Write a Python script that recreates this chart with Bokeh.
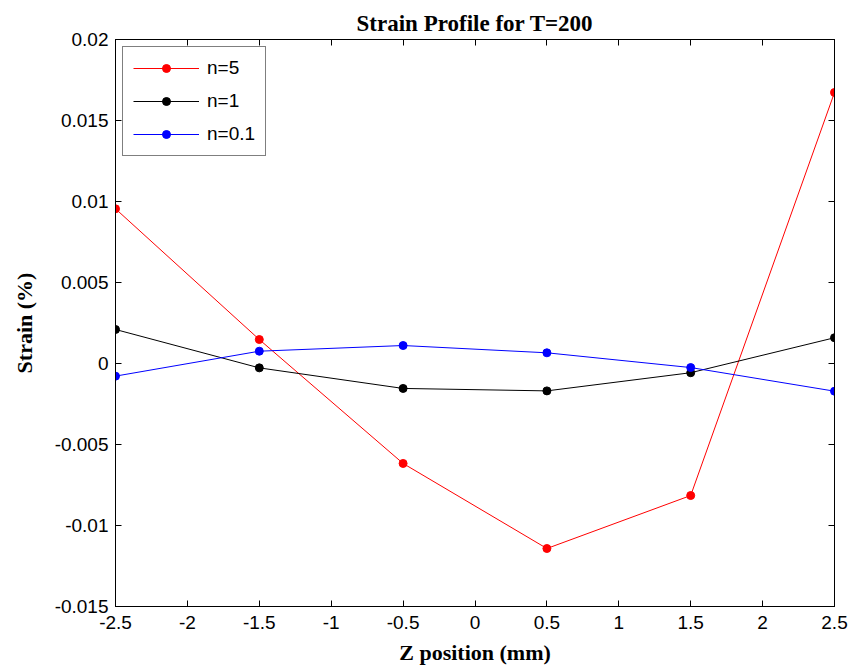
from bokeh.plotting import figure
from bokeh.models import LinearAxis, FixedTicker, Legend, LegendItem, Range1d
from bokeh.embed import file_html
from bokeh.resources import INLINE

z = [-2.5, -1.5, -0.5, 0.5, 1.5, 2.5]
n5 = [0.00955, 0.00148, -0.00617, -0.01142, -0.00815, 0.01673]
n1 = [0.0021, -0.00027, -0.00154, -0.00169, -0.00057, 0.00159]
n01 = [-0.00078, 0.00076, 0.00111, 0.00066, -0.00025, -0.00171]

x_ticks = [-2.5, -2, -1.5, -1, -0.5, 0, 0.5, 1, 1.5, 2, 2.5]
x_labels = ["-2.5", "-2", "-1.5", "-1", "-0.5", "0", "0.5", "1", "1.5", "2", "2.5"]
y_ticks = [-0.015, -0.01, -0.005, 0, 0.005, 0.01, 0.015, 0.02]
y_labels = ["-0.015", "-0.01", "-0.005", "0", "0.005", "0.01", "0.015", "0.02"]

p = figure(width=854, height=672, frame_width=719, frame_height=567,
           output_backend="svg", toolbar_location=None,
           x_range=Range1d(-2.5, 2.5), y_range=Range1d(-0.015, 0.02),
           min_border_left=115, min_border_right=20, min_border_top=39, min_border_bottom=66)
p.background_fill_color = "white"
p.border_fill_color = "white"
p.grid.visible = False
p.outline_line_color = "black"
p.outline_line_width = 1

p.title.text = "Strain Profile for T=200"
p.title.align = "center"
p.title.text_font = "Liberation Serif"
p.title.text_font_size = "23px"
p.title.text_font_style = "bold"
p.title.text_color = "black"
p.title.offset = 0
p.title.standoff = 8

def style_axis(ax, ticks, labels, show):
    ax.ticker = FixedTicker(ticks=ticks)
    ax.major_label_overrides = {t: (l if show else "") for t, l in zip(ticks, labels)}
    ax.major_tick_in = 6
    ax.major_tick_out = 0
    ax.minor_tick_in = 0
    ax.minor_tick_out = 0
    ax.axis_line_color = "black"
    ax.major_tick_line_color = "black"
    ax.major_label_text_font = "Liberation Sans"
    ax.major_label_text_font_size = "19px" if show else "1px"
    ax.major_label_text_color = "black"
    if not show:
        ax.major_label_standoff = 0

style_axis(p.xaxis[0], x_ticks, x_labels, True)
style_axis(p.yaxis[0], y_ticks, y_labels, True)
p.xaxis[0].major_label_standoff = 9
p.yaxis[0].major_label_standoff = 7

p.xaxis[0].axis_label = "Z position (mm)"
p.yaxis[0].axis_label = "Strain (%)"
for ax in (p.xaxis[0], p.yaxis[0]):
    ax.axis_label_text_font = "Liberation Serif"
    ax.axis_label_text_font_style = "bold"
    ax.axis_label_text_font_size = "22px"
    ax.axis_label_text_color = "black"
p.xaxis[0].axis_label_standoff = 8
p.yaxis[0].axis_label_standoff = 15

top = LinearAxis()
right = LinearAxis()
style_axis(top, x_ticks, x_labels, False)
style_axis(right, y_ticks, y_labels, False)
p.add_layout(top, "above")
p.add_layout(right, "right")

series = [("n=5", n5, "#ff0000"), ("n=1", n1, "#000000"), ("n=0.1", n01, "#0000ff")]
items = []
for name, ys, col in series:
    l = p.line(z, ys, line_color=col, line_width=1)
    c = p.scatter(z, ys, size=8, fill_color=col, line_color=col)
    items.append(LegendItem(label=name, renderers=[l, c]))

legend = Legend(items=items, location="top_left")
legend.label_text_font = "Liberation Sans"
legend.label_text_font_size = "19px"
legend.label_text_color = "black"
legend.border_line_color = "black"
legend.border_line_width = 1
legend.margin = 7
legend.padding = 10
legend.spacing = 11
legend.glyph_width = 66
legend.glyph_height = 20
legend.label_height = 20
legend.label_standoff = 8
legend.background_fill_alpha = 1
p.add_layout(legend)

open("out.html", "w").write(file_html(p, INLINE))
